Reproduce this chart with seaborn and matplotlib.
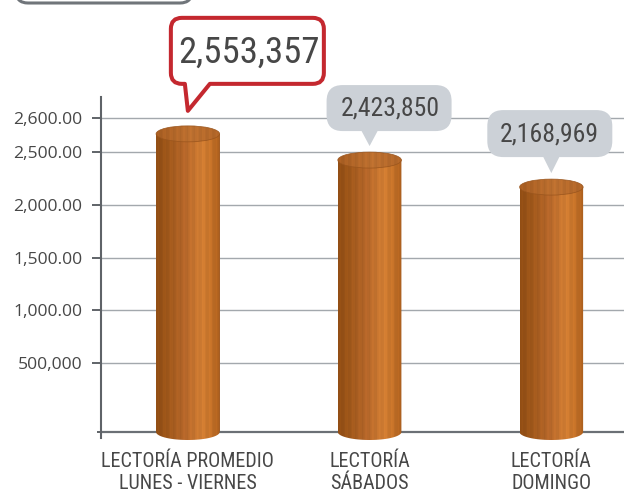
import numpy as np
import matplotlib
matplotlib.use("Agg")
import matplotlib.pyplot as plt
import seaborn as sns
from matplotlib.path import Path
from matplotlib.patches import PathPatch, Ellipse, FancyBboxPatch
from matplotlib import font_manager as fm
from matplotlib.colors import to_rgb

# ---- data ----
categories = ["LECTORÍA PROMEDIO\nLUNES - VIERNES", "LECTORÍA\nSÁBADOS", "LECTORÍA\nDOMINGO"]
values = [2553357, 2423850, 2168969]
tick_values = [500000, 1000000, 1500000, 2000000, 2500000, 2600000]
tick_labels = ["500,000", "1,000.00", "1,500.00", "2,000.00", "2,500.00", "2,600.00"]

# ---- fonts ----
names = {f.name for f in fm.fontManager.ttflist}
COND = next((n for n in ["Roboto Condensed", "Archivo Narrow", "Liberation Sans Narrow"]
             if n in names), "DejaVu Sans")
REG = "Open Sans" if "Open Sans" in names else "DejaVu Sans"
TXT = "#474747"
AX = "#5f6368"

# ---- axis scale: tick spacing of the printed axis ----
tick_px = [0, 69, 122, 174, 227, 280, 314]
kv = np.array([0] + tick_values, float)
kh = np.array(tick_px, float)


def _piecewise(x, xs, ys):
    x = np.asarray(x, float)
    y = np.interp(x, xs, ys)
    lo = ys[0] + (x - xs[0]) * (ys[1] - ys[0]) / (xs[1] - xs[0])
    hi = ys[-1] + (x - xs[-1]) * (ys[-1] - ys[-2]) / (xs[-1] - xs[-2])
    return np.where(x < xs[0], lo, np.where(x > xs[-1], hi, y))


def fwd(v):
    return _piecewise(v, kv, kh)


def inv(h):
    return _piecewise(h, kh, kv)


W, H = 624, 493
fig = plt.figure(figsize=(W / 100, H / 100), dpi=100)
ax = fig.add_axes([101 / W, (H - 438) / H, 1 - 101 / W, 341 / H])

sns.barplot(x=categories, y=values, width=0.35, color="#b5652a", linewidth=0,
            errorbar=None, ax=ax)

ax.set_yscale("function", functions=(fwd, inv))
ax.set_ylim(inv(-6), inv(335))
ax.set_xlim(-0.478, 2.40)
ax.set_xlabel("")
ax.set_ylabel("")

ax.set_yticks(tick_values)
ax.set_yticklabels(tick_labels, fontfamily=REG, fontsize=12.6, color=TXT)
ax.set_yticks([0], minor=True)
ax.tick_params(axis="y", which="major", length=6.5, width=1.4, color=AX, pad=7)
ax.tick_params(axis="y", which="minor", length=3, width=1.4, color=AX)
ax.tick_params(axis="x", length=0, pad=10)
for lab in ax.get_xticklabels():
    lab.set_fontfamily(COND)
    lab.set_fontsize(14.5)
    lab.set_color(TXT)
    lab.set_linespacing(1.18)

for s in ("top", "right", "bottom"):
    ax.spines[s].set_visible(False)
ax.spines["left"].set_color(AX)
ax.spines["left"].set_linewidth(1.5)
ax.grid(axis="y", which="major", color="#a3a8ad", linewidth=1.0)
ax.set_axisbelow(True)
ax.axhline(0, color="#6b7075", linewidth=1.6, zorder=1)

# ---- overlay in pixel space for the cylinder shading and callouts ----
ov = fig.add_axes([0, 0, 1, 1], zorder=2)
ov.set_xlim(0, W)
ov.set_ylim(0, H)
ov.patch.set_alpha(0)
ov.axis("off")


def gradient(stops, n=200):
    t = np.linspace(0, 1, n)
    pos = [s[0] for s in stops]
    cols = np.array([to_rgb(s[1]) for s in stops])
    rgb = np.stack([np.interp(t, pos, cols[:, k]) for k in range(3)], axis=1)
    streak = 1 + 0.035 * np.sin(t * 61) + 0.02 * np.sin(t * 173 + 1.3)
    return np.clip(rgb * streak[:, None], 0, 1)[None, :, :]


body_grad = gradient([(0, "#8f4c14"), (0.15, "#9d5619"), (0.45, "#b6672a"),
                      (0.72, "#d27e33"), (0.86, "#c67329"), (1, "#a95d1d")])
cap_grad = gradient([(0, "#a85e22"), (0.55, "#bd7030"), (1, "#b06528")])
RY = 8

tips = []
for p in ax.patches:
    x0, w, top = p.get_x(), p.get_width(), p.get_height()
    (px0, pyb), (px1, pyt) = ax.transData.transform([(x0, 0), (x0 + w, top)])
    cx = (px0 + px1) / 2
    a = (px1 - px0) / 2
    th = np.linspace(np.pi, 2 * np.pi, 40)
    outline = [(px0, pyt), (px0, pyb)] + list(zip(cx + a * np.cos(th), pyb + RY * np.sin(th))) + \
              [(px1, pyb), (px1, pyt), (px0, pyt)]
    clip = PathPatch(Path(outline), facecolor="none", edgecolor="none")
    ov.add_patch(clip)
    im = ov.imshow(body_grad, extent=(px0, px1, pyb - RY - 1, pyt + 1), aspect="auto",
                   interpolation="bilinear", zorder=3)
    im.set_clip_path(clip)
    cap = Ellipse((cx, pyt), 2 * a, 2 * RY, facecolor="none", edgecolor="#9a551d",
                  linewidth=0.5, zorder=5)
    ov.add_patch(cap)
    im2 = ov.imshow(cap_grad, extent=(px0, px1, pyt - RY, pyt + RY), aspect="auto",
                    interpolation="bilinear", zorder=4)
    im2.set_clip_path(cap)
    tips.append((cx, pyt))


def callout_path(bx0, bx1, by0, by1, r, tl, tr, tip):
    k = [(bx0 + r, by0), (tl, by0), tip, (tr, by0), (bx1 - r, by0),
         (bx1, by0), (bx1, by0 + r), (bx1, by1 - r), (bx1, by1), (bx1 - r, by1),
         (bx0 + r, by1), (bx0, by1), (bx0, by1 - r), (bx0, by0 + r), (bx0, by0), (bx0 + r, by0),
         (bx0 + r, by0)]
    c = [Path.MOVETO, Path.LINETO, Path.LINETO, Path.LINETO, Path.LINETO,
         Path.CURVE3, Path.CURVE3, Path.LINETO, Path.CURVE3, Path.CURVE3,
         Path.LINETO, Path.CURVE3, Path.CURVE3, Path.LINETO, Path.CURVE3, Path.CURVE3,
         Path.CLOSEPOLY]
    return Path(k, c)


# callout layout: gap above the cap, box extents, tail base, text offset
callout_style = [
    dict(gap=23, box=(-17, 136, 27, 93), tail=(-3, 22), text=(61, 58), r=11,
         fc="white", ec="#c4282f", lw=2.9, fs=26.5),
    dict(gap=14, box=(-43, 82, 15, 61), tail=(-8, 8), text=(21, 38), r=16,
         fc="#ccd1d7", ec="none", lw=0, fs=18.5),
    dict(gap=14, box=(-64, 61, 16, 63), tail=(-8, 8), text=(-2, 39), r=16,
         fc="#ccd1d7", ec="none", lw=0, fs=18.5),
]
for (cx, cy), v, st in zip(tips, values, callout_style):
    tx, ty = cx, cy + st["gap"]
    b = st["box"]
    path = callout_path(tx + b[0], tx + b[1], ty + b[2], ty + b[3], st["r"],
                        tx + st["tail"][0], tx + st["tail"][1], (tx, ty))
    ov.add_patch(PathPatch(path, facecolor=st["fc"], edgecolor=st["ec"],
                           linewidth=st["lw"], joinstyle="round", zorder=6))
    ov.text(tx + st["text"][0], ty + st["text"][1], f"{v:,}", ha="center", va="center",
            fontfamily=COND, fontsize=st["fs"], color=TXT, zorder=7)

# header box edge at the top of the page
ov.add_patch(FancyBboxPatch((16, H - 3), 176, 40, boxstyle="round,pad=0,rounding_size=12",
                            facecolor="white", edgecolor="#70757a", linewidth=2.2, zorder=6))
ov.set_xlim(0, W)
ov.set_ylim(0, H)

fig.savefig("out.png", dpi=100)
